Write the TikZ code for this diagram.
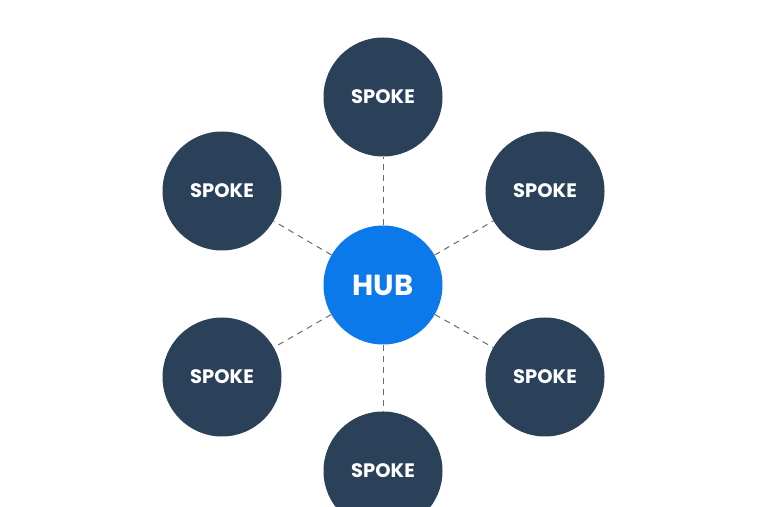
\documentclass[tikz,border=0pt]{standalone}
\usepackage{fontspec}
\setmainfont{Poppins}
\definecolor{navy}{HTML}{2A4159}
\definecolor{hubblue}{HTML}{0B79EA}
\definecolor{dashgray}{HTML}{6A6A6A}
\begin{document}
\begin{tikzpicture}[x=1pt,y=1pt,
  spoke/.style={circle,fill=navy,minimum size=119pt,inner sep=0pt,text=white,font=\fontsize{19.5}{19.5}\selectfont\bfseries},
  hub/.style={circle,fill=hubblue,minimum size=119pt,inner sep=0pt,text=white,font=\fontsize{29}{29}\selectfont\bfseries},
  link/.style={draw=dashgray,line width=1pt,dash pattern=on 6pt off 5pt}]
\useasboundingbox (0,0) rectangle (768,506);
\clip (0,0) rectangle (768,506);
\node[hub] (h) at (383,221) {HUB};
\node[spoke] (t) at (383,409) {SPOKE};
\node[spoke] (b) at (383,35) {SPOKE};
\node[spoke] (ul) at (222,315) {SPOKE};
\node[spoke] (ur) at (545,315) {SPOKE};
\node[spoke] (ll) at (222,129) {SPOKE};
\node[spoke] (lr) at (545,129) {SPOKE};
\foreach \s in {t,b,ul,ur,ll,lr} \draw[link] (h) -- (\s);
\end{tikzpicture}
\end{document}
